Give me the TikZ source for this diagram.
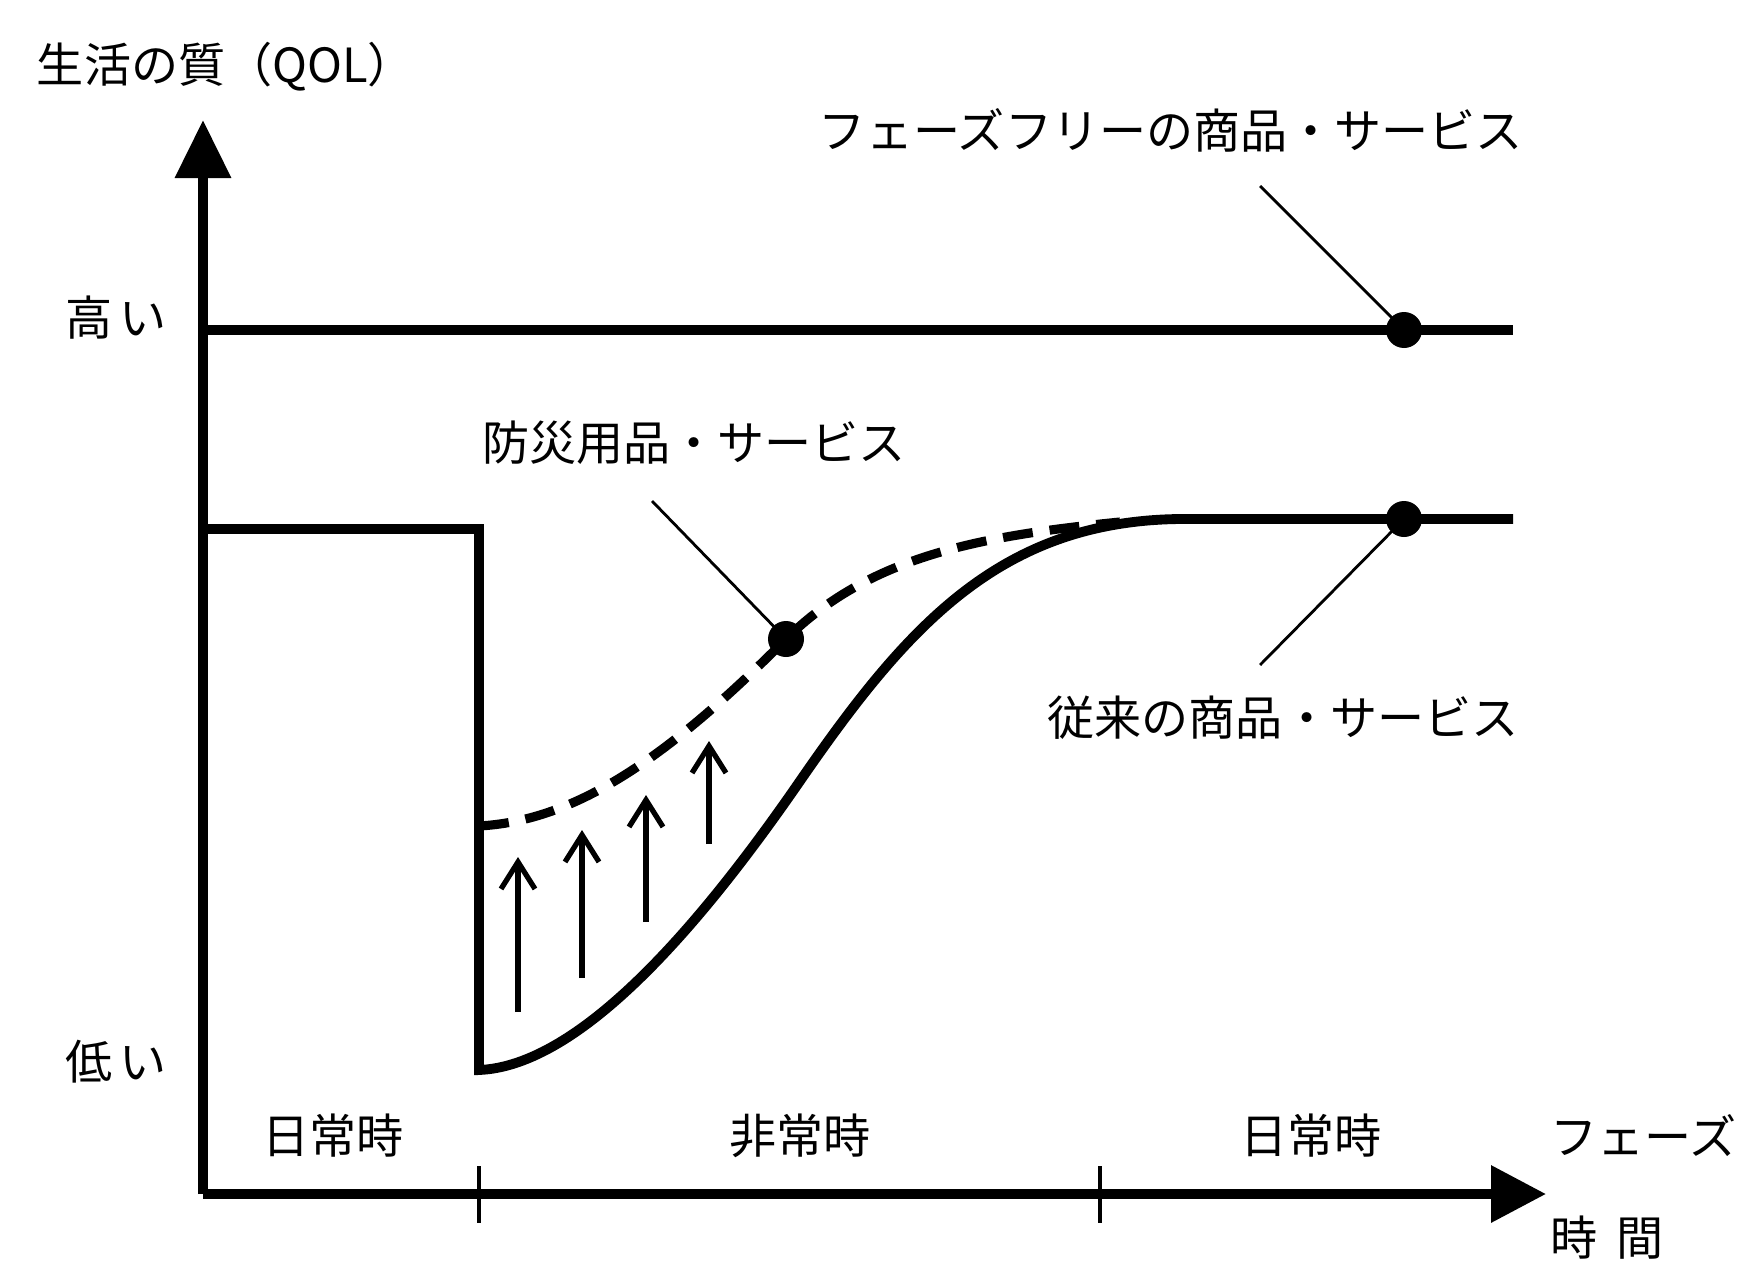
\documentclass[tikz,border=0pt]{standalone}
\usepackage{fontspec}
\setmainfont{Noto Sans CJK JP}
\usetikzlibrary{arrows.meta}

\tikzset{
  qline/.style={line width=2.8pt, line join=miter},
  dashline/.style={line width=2.6pt, dash pattern=on 0.3cm off 0.17cm},
  lift/.style={line width=1.5pt, -{Straight Barb[length=0.27cm,width=0.34cm]}},
  leader/.style={line width=0.8pt},
  dotmark/.style={circle, fill, inner sep=0pt, minimum size=0.36cm},
  lbl/.style={font=\fontsize{13.4}{16}\selectfont, inner sep=0pt}
}

\begin{document}
\begin{tikzpicture}
	\useasboundingbox (0,0) rectangle (17.38,12.66);
	% axes
	\coordinate (o) at (2.03,0.72);
	\draw[qline,-{Triangle[length=0.58cm,width=0.54cm]}] (o)--(2.03,11.46);
	\draw[qline,-{Triangle[length=0.55cm,width=0.55cm]}] (o)--(15.46,0.72);
	\draw[line width=1.2pt] (4.79,1.00)--(4.79,0.43);
	\draw[line width=1.2pt] (11.00,1.00)--(11.00,0.43);
	\node[lbl] (ax) at (2.26,11.99) {生活の質（QOL）};
	\node[lbl] (hi) at (1.16,9.48) {高\hspace{0.15em}い};
	\node[lbl] (lo) at (1.16,2.04) {低\hspace{0.15em}い};
	\node[lbl] (p1) at (3.33,1.30) {日常時};
	\node[lbl] (p2) at (8.00,1.30) {非常時};
	\node[lbl] (p3) at (13.11,1.30) {日常時};
	\node[lbl,anchor=west] (ph) at (15.50,1.30) {フェーズ};
	\node[lbl,anchor=west] (tm) at (15.50,0.28) {時\hspace{0.4em}間};

	% phase free
	\draw[qline] (2.03,9.36)--(15.13,9.36);
	\node[dotmark] (d1) at (14.04,9.36) {};
	\node[lbl] (t1) at (11.71,11.36) {フェーズフリーの商品・サービス};
	\coordinate (e1) at (12.60,10.80);
	\draw[leader] (e1)--(d1.center);

	% conventional
	\draw[qline] (2.03,7.37)--(4.79,7.37)--(4.79,1.96)
		.. controls (5.8,2.0) and (7.0,3.4) .. (8.0,4.85)
		.. controls (9.07,6.4) and (10.0,7.45) .. (11.8,7.47)--(15.13,7.47);
	\node[dotmark] (d2) at (14.04,7.47) {};
	\node[lbl] (t2) at (12.83,5.48) {従来の商品・サービス};
	\coordinate (e2) at (12.60,6.01);
	\draw[leader] (e2)--(d2.center);

	% disaster goods
	\draw[dashline] (4.79,4.40) .. controls (5.7,4.45) and (6.6,5.0) .. (7.86,6.27)
		.. controls (8.7,7.1) and (9.8,7.3) .. (11.2,7.44);
	\node[dotmark] (d3) at (7.86,6.27) {};
	\node[lbl] (t3) at (6.94,8.23) {防災用品・サービス};
	\coordinate (e3) at (6.52,7.65);
	\draw[leader] (e3)--(d3.center);

	\draw[lift] (5.18,2.54)--(5.18,4.09);
	\draw[lift] (5.82,2.88)--(5.82,4.36);
	\draw[lift] (6.46,3.44)--(6.46,4.71);
	\draw[lift] (7.09,4.22)--(7.09,5.25);
\end{tikzpicture}
\end{document}
